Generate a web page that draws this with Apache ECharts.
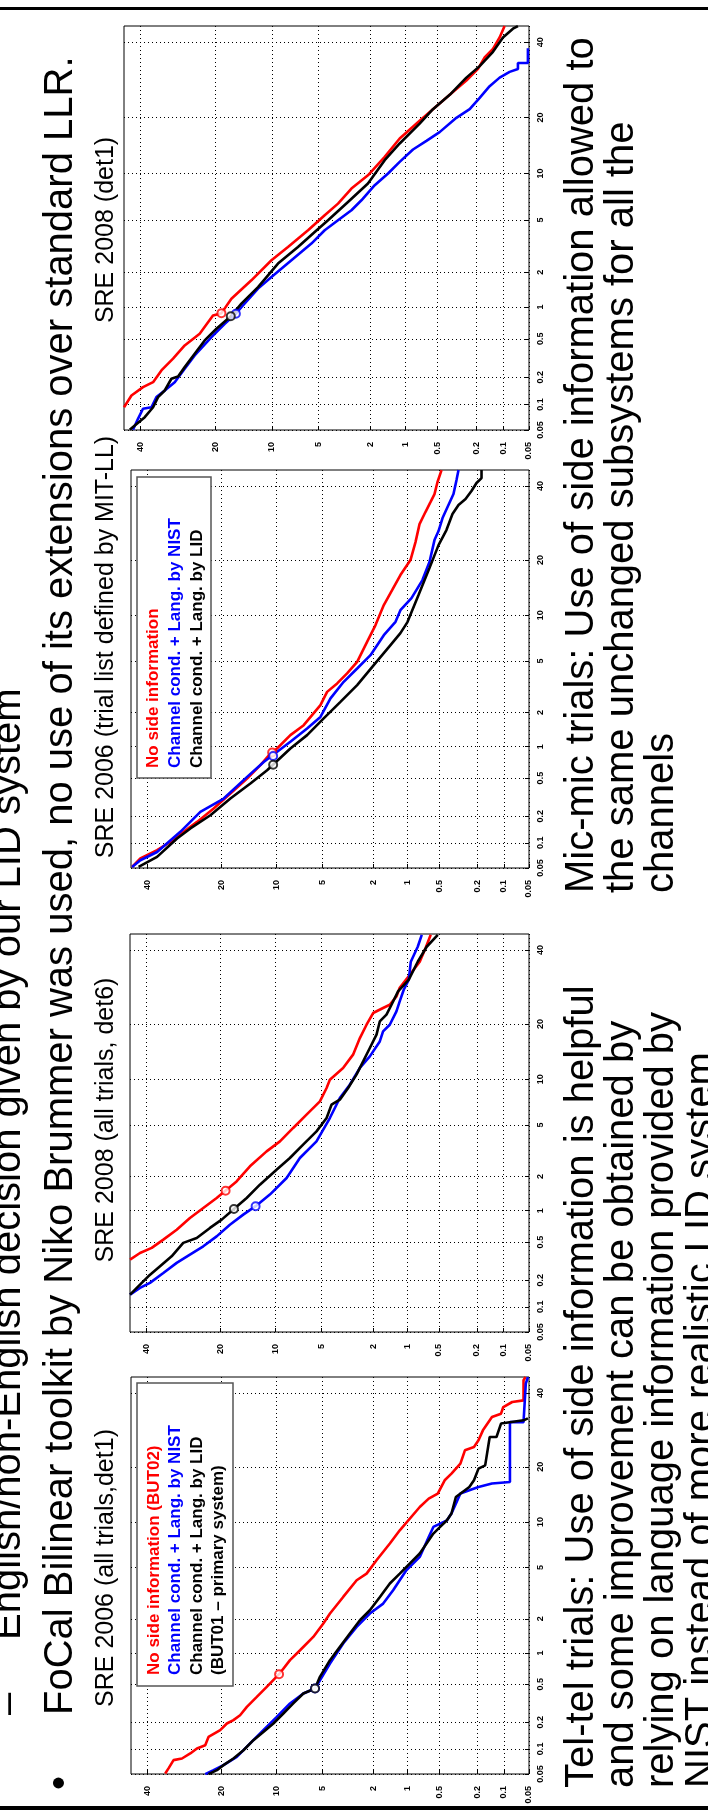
<!DOCTYPE html>
<html>
<head>
<meta charset="utf-8">
<title>DET plots - side information</title>
<script src="https://cdn.jsdelivr.net/npm/echarts@6/dist/echarts.min.js"></script>
<style>
html, body { margin: 0; padding: 0; background: #fff; }
#myecharts { width: 708px; height: 1816px; }
</style>
</head>
<body>
<div id="myecharts"></div>
<script>
// slide is rotated 90deg: miss prob runs along x (inverted), false alarm along y
// all DET points are [miss, false alarm] as normal deviates (probit of the probability)

var tickPercents = [40, 20, 10, 5, 2, 1, 0.5, 0.2, 0.1, 0.05];
var tickLabels = ['40', '20', '10', '5', '2', '1', '0.5', '0.2', '0.1', '0.05'];
var axisMinPercent = 0.05;
var axisMaxPercent = 45;

var plotTitles = ['SRE 2008 (det1)', 'SRE 2006 (trial list defined by MIT-LL)', 'SRE 2008 (all trials, det6)', 'SRE 2006 (all trials,det1)'];

// SRE 2008 det1 (mic-mic)
var sre08det1Red = [[-0.126,-3.112],[-0.184,-3.020],[-0.274,-2.955],[-0.353,-2.916],[-0.418,-2.824],[-0.509,-2.732],[-0.600,-2.628],[-0.717,-2.536],[-0.821,-2.393],[-0.887,-2.375],[-0.965,-2.262],[-1.121,-2.118],[-1.278,-1.961],[-1.407,-1.857],[-1.564,-1.726],[-1.694,-1.608],[-1.798,-1.517],[-1.903,-1.399],[-2.032,-1.295],[-2.163,-1.151],[-2.280,-1.007],[-2.436,-0.868],[-2.592,-0.732],[-2.696,-0.642],[-2.801,-0.553],[-2.892,-0.462],[-2.944,-0.372],[-3.009,-0.305],[-3.061,-0.215],[-3.100,-0.126]];
var sre08det1Blue = [[-0.196,-3.289],[-0.235,-3.203],[-0.274,-3.124],[-0.340,-3.112],[-0.379,-3.033],[-0.444,-2.981],[-0.522,-2.916],[-0.600,-2.811],[-0.678,-2.706],[-0.809,-2.563],[-0.913,-2.458],[-1.000,-2.380],[-1.043,-2.328],[-1.173,-2.183],[-1.278,-2.092],[-1.434,-1.961],[-1.590,-1.830],[-1.694,-1.726],[-1.798,-1.648],[-1.903,-1.569],[-1.981,-1.491],[-2.085,-1.373],[-2.189,-1.281],[-2.280,-1.190],[-2.384,-1.093],[-2.489,-1.025],[-2.592,-0.957],[-2.723,-0.845],[-2.827,-0.777],[-2.905,-0.688],[-2.983,-0.597],[-3.061,-0.530],[-3.139,-0.485],[-3.204,-0.462],[-3.204,-0.416],[-3.282,-0.416],[-3.282,-0.299]];
var sre08det1Black = [[-0.171,-3.289],[-0.210,-3.255],[-0.288,-3.190],[-0.353,-3.112],[-0.392,-3.033],[-0.444,-2.981],[-0.496,-2.889],[-0.548,-2.871],[-0.600,-2.798],[-0.678,-2.693],[-0.756,-2.589],[-0.848,-2.497],[-0.960,-2.400],[-1.043,-2.301],[-1.173,-2.171],[-1.329,-1.987],[-1.485,-1.857],[-1.616,-1.739],[-1.720,-1.648],[-1.876,-1.504],[-2.032,-1.360],[-2.163,-1.177],[-2.280,-1.046],[-2.436,-0.890],[-2.540,-0.777],[-2.671,-0.665],[-2.801,-0.530],[-2.905,-0.440],[-3.009,-0.328],[-3.087,-0.215],[-3.165,-0.147],[-3.204,-0.126]];
var sre08det1Dcf = [[-0.887,-2.375],[-1.000,-2.380],[-0.960,-2.400]]; // red, blue, black

// SRE 2006, trial list by MIT-LL (mic-mic)
var sre06mitRed = [[-0.134,-3.282],[-0.200,-3.215],[-0.333,-3.149],[-0.439,-3.083],[-0.544,-3.003],[-0.651,-2.924],[-0.783,-2.817],[-0.916,-2.698],[-1.049,-2.579],[-1.155,-2.473],[-1.234,-2.380],[-1.287,-2.340],[-1.393,-2.234],[-1.499,-2.155],[-1.632,-1.996],[-1.685,-1.890],[-1.765,-1.823],[-1.844,-1.743],[-1.924,-1.651],[-2.003,-1.492],[-2.070,-1.359],[-2.136,-1.200],[-2.202,-1.081],[-2.268,-0.961],[-2.348,-0.842],[-2.388,-0.699],[-2.420,-0.556],[-2.467,-0.460],[-2.507,-0.381],[-2.539,-0.317],[-2.563,-0.221],[-2.595,-0.126]];
var sre06mitBlue = [[-0.134,-3.282],[-0.200,-3.229],[-0.333,-3.163],[-0.518,-3.003],[-0.677,-2.844],[-0.863,-2.738],[-1.049,-2.566],[-1.181,-2.447],[-1.393,-2.287],[-1.526,-2.181],[-1.632,-2.089],[-1.712,-1.942],[-1.817,-1.810],[-1.924,-1.704],[-2.030,-1.598],[-2.136,-1.439],[-2.229,-1.333],[-2.268,-1.240],[-2.356,-1.144],[-2.443,-1.001],[-2.499,-0.858],[-2.539,-0.683],[-2.571,-0.611],[-2.603,-0.508],[-2.650,-0.404],[-2.690,-0.317],[-2.714,-0.206],[-2.730,-0.126]];
var sre06mitBlack = [[-0.186,-3.282],[-0.333,-3.202],[-0.492,-3.056],[-0.598,-2.976],[-0.757,-2.871],[-0.916,-2.738],[-1.075,-2.618],[-1.208,-2.513],[-1.393,-2.340],[-1.526,-2.234],[-1.658,-2.101],[-1.791,-1.969],[-1.924,-1.836],[-2.056,-1.677],[-2.189,-1.518],[-2.268,-1.423],[-2.324,-1.335],[-2.412,-1.120],[-2.499,-0.906],[-2.571,-0.723],[-2.634,-0.603],[-2.682,-0.476],[-2.730,-0.404],[-2.786,-0.357],[-2.833,-0.293],[-2.873,-0.229],[-2.913,-0.190],[-2.913,-0.126]];
var sre06mitDcf = [[-1.248,-2.372],[-1.256,-2.400],[-1.256,-2.470]];

// SRE 2008 all trials det6 (tel-tel)
var sre08det6Red = [[-0.126,-2.715],[-0.205,-2.662],[-0.298,-2.622],[-0.390,-2.556],[-0.496,-2.477],[-0.601,-2.384],[-0.707,-2.304],[-0.813,-2.225],[-0.971,-2.093],[-1.077,-1.973],[-1.209,-1.854],[-1.315,-1.775],[-1.420,-1.668],[-1.526,-1.562],[-1.632,-1.457],[-1.685,-1.350],[-1.711,-1.284],[-1.816,-1.191],[-1.895,-1.085],[-1.949,-0.953],[-2.002,-0.847],[-2.054,-0.754],[-2.133,-0.714],[-2.186,-0.688],[-2.239,-0.622],[-2.265,-0.553],[-2.345,-0.450],[-2.424,-0.346],[-2.471,-0.235],[-2.511,-0.132]];
var sre08det6Blue = [[-0.126,-2.993],[-0.205,-2.940],[-0.284,-2.900],[-0.390,-2.821],[-0.496,-2.741],[-0.601,-2.675],[-0.707,-2.609],[-0.813,-2.530],[-0.918,-2.437],[-1.024,-2.357],[-1.122,-2.290],[-1.235,-2.198],[-1.368,-2.066],[-1.473,-1.907],[-1.605,-1.775],[-1.711,-1.589],[-1.790,-1.430],[-1.869,-1.324],[-1.949,-1.191],[-2.028,-1.099],[-2.107,-0.980],[-2.133,-0.900],[-2.186,-0.847],[-2.239,-0.741],[-2.265,-0.662],[-2.297,-0.569],[-2.337,-0.489],[-2.353,-0.346],[-2.408,-0.227],[-2.440,-0.132]];
var sre08det6Black = [[-0.126,-2.993],[-0.205,-2.914],[-0.271,-2.848],[-0.364,-2.768],[-0.456,-2.689],[-0.548,-2.582],[-0.655,-2.543],[-0.760,-2.463],[-0.853,-2.397],[-0.950,-2.312],[-1.051,-2.225],[-1.156,-2.119],[-1.288,-2.000],[-1.394,-1.907],[-1.499,-1.801],[-1.605,-1.695],[-1.685,-1.589],[-1.724,-1.483],[-1.790,-1.443],[-1.856,-1.350],[-1.922,-1.244],[-1.975,-1.139],[-2.028,-1.032],[-2.081,-0.926],[-2.107,-0.821],[-2.160,-0.767],[-2.200,-0.688],[-2.252,-0.582],[-2.337,-0.489],[-2.408,-0.346],[-2.479,-0.227],[-2.567,-0.132]];
var sre08det6Dcf = [[-0.884,-2.168],[-1.122,-2.290],[-0.950,-2.312]];

// SRE 2006 all trials det1 (tel-tel)
var sre06det1Red = [[-0.398,-3.286],[-0.424,-3.246],[-0.464,-3.180],[-0.531,-3.167],[-0.597,-3.127],[-0.650,-3.087],[-0.716,-3.061],[-0.742,-2.995],[-0.835,-2.941],[-0.888,-2.888],[-0.940,-2.861],[-0.993,-2.822],[-1.047,-2.755],[-1.126,-2.676],[-1.205,-2.596],[-1.303,-2.495],[-1.390,-2.383],[-1.470,-2.304],[-1.575,-2.198],[-1.655,-2.091],[-1.708,-2.011],[-1.813,-1.879],[-1.920,-1.746],[-1.999,-1.693],[-2.078,-1.587],[-2.184,-1.453],[-2.263,-1.348],[-2.422,-1.162],[-2.493,-1.095],[-2.565,-1.055],[-2.620,-0.949],[-2.674,-0.896],[-2.745,-0.816],[-2.781,-0.710],[-2.853,-0.684],[-2.889,-0.630],[-2.924,-0.551],[-2.996,-0.445],[-3.068,-0.418],[-3.086,-0.365],[-3.157,-0.325],[-3.247,-0.312],[-3.247,-0.152],[-3.263,-0.126]];
var sre06det1Blue = [[-0.716,-3.292],[-0.782,-3.260],[-0.861,-3.220],[-0.967,-3.154],[-1.073,-3.047],[-1.178,-2.941],[-1.285,-2.835],[-1.390,-2.728],[-1.496,-2.649],[-1.589,-2.609],[-1.628,-2.543],[-1.708,-2.410],[-1.813,-2.250],[-1.920,-2.118],[-2.025,-2.011],[-2.131,-1.932],[-2.210,-1.826],[-2.315,-1.666],[-2.422,-1.560],[-2.493,-1.401],[-2.530,-1.321],[-2.638,-1.268],[-2.674,-1.214],[-2.709,-1.135],[-2.745,-1.055],[-2.816,-1.029],[-2.889,-1.002],[-2.996,-0.975],[-3.139,-0.963],[-3.139,-0.485],[-3.247,-0.485],[-3.265,-0.179],[-3.282,-0.126]];
var sre06det1Black = [[-0.742,-3.292],[-0.809,-3.260],[-0.861,-3.220],[-0.940,-3.167],[-1.020,-3.101],[-1.099,-3.021],[-1.178,-2.955],[-1.258,-2.888],[-1.337,-2.808],[-1.416,-2.728],[-1.496,-2.649],[-1.589,-2.609],[-1.628,-2.516],[-1.708,-2.383],[-1.787,-2.277],[-1.866,-2.171],[-1.946,-2.065],[-2.025,-1.985],[-2.105,-1.879],[-2.184,-1.772],[-2.263,-1.693],[-2.422,-1.533],[-2.476,-1.453],[-2.530,-1.374],[-2.584,-1.321],[-2.638,-1.268],[-2.674,-1.214],[-2.709,-1.082],[-2.816,-1.002],[-2.853,-0.949],[-2.889,-0.856],[-2.942,-0.830],[-2.978,-0.604],[-3.032,-0.604],[-3.068,-0.497],[-3.247,-0.471],[-3.282,-0.455]];
var sre06det1Dcf = [[-1.303,-2.495],[-1.589,-2.609],[-1.589,-2.609]];

var legendMit = ['No side information', 'Channel cond. + Lang. by NIST', 'Channel cond. + Lang. by LID'];
var legendDet1 = ['No side information (BUT02)', 'Channel cond. + Lang. by NIST', 'Channel cond. + Lang. by LID', '(BUT01 \u2013 primary system)'];

var bulletSub = 'English/non-English decision given by our LID system';
var bulletMain = 'FoCal Bilinear toolkit by Niko Brummer was used, no use of its extensions over standard LLR.';
var telTelNote = ['Tel-tel trials: Use of side information is helpful', 'and some improvement can be obtained by', 'relying on language information provided by', 'NIST instead of more realistic LID system'];
var micMicNote = ['Mic-mic trials: Use of side information allowed to', 'the same unchanged subsystems for all the', 'channels'];

// inverse normal cdf (Acklam)
function probit(p) {
  var a = [-3.969683028665376e+01, 2.209460984245205e+02, -2.759285104469687e+02, 1.383577518672690e+02, -3.066479806614716e+01, 2.506628277459239e+00];
  var b = [-5.447609879822406e+01, 1.615858368580409e+02, -1.556989798598866e+02, 6.680131188771972e+01, -1.328068155288572e+01];
  var c = [-7.784894002430293e-03, -3.223964580411365e-01, -2.400758277161838e+00, -2.549732539343734e+00, 4.374664141464968e+00, 2.938163982698783e+00];
  var d = [7.784695709041462e-03, 3.224671290700398e-01, 2.445134137142996e+00, 3.754408661907416e+00];
  var q, r;
  if (p < 0.02425) {
    q = Math.sqrt(-2 * Math.log(p));
    return (((((c[0]*q+c[1])*q+c[2])*q+c[3])*q+c[4])*q+c[5]) / ((((d[0]*q+d[1])*q+d[2])*q+d[3])*q+1);
  }
  if (p <= 1 - 0.02425) {
    q = p - 0.5; r = q * q;
    return (((((a[0]*r+a[1])*r+a[2])*r+a[3])*r+a[4])*r+a[5])*q / (((((b[0]*r+b[1])*r+b[2])*r+b[3])*r+b[4])*r+1);
  }
  q = Math.sqrt(-2 * Math.log(1 - p));
  return -(((((c[0]*q+c[1])*q+c[2])*q+c[3])*q+c[4])*q+c[5]) / ((((d[0]*q+d[1])*q+d[2])*q+d[3])*q+1);
}

var devMin = probit(axisMinPercent / 100);
var devMax = probit(axisMaxPercent / 100);
var tickDevs = tickPercents.map(function (p) { return probit(p / 100); });

function tickText(v) {
  for (var i = 0; i < tickDevs.length; i++) {
    if (Math.abs(tickDevs[i] - v) < 1e-6) return tickLabels[i];
  }
  return '';
}

var plots = [
  { red: sre08det1Red, blue: sre08det1Blue, black: sre08det1Black, dcf: sre08det1Dcf },
  { red: sre06mitRed, blue: sre06mitBlue, black: sre06mitBlack, dcf: sre06mitDcf },
  { red: sre08det6Red, blue: sre08det6Blue, black: sre08det6Black, dcf: sre08det6Dcf },
  { red: sre06det1Red, blue: sre06det1Blue, black: sre06det1Black, dcf: sre06det1Dcf }
];
var gridBoxes = [
  { left: 124, top: 26, width: 405, height: 404 },
  { left: 131, top: 470, width: 398, height: 398 },
  { left: 130, top: 934, width: 399, height: 398 },
  { left: 131, top: 1377, width: 398, height: 397 }
];
var titleCenters = [230, 647, 1120, 1568];
var colors = ['#ff0000', '#0000ff', '#000000'];
var font = 'Liberation Sans, Arial, Helvetica, sans-serif';

var grids = [], xAxes = [], yAxes = [], series = [];
var dotted = { color: '#000', width: 1, type: [1, 3] };

gridBoxes.forEach(function (g, i) {
  grids.push({ left: g.left, top: g.top, width: g.width, height: g.height, show: true, borderColor: '#000', borderWidth: 1, backgroundColor: '#fff' });
  xAxes.push({
    type: 'value', gridIndex: i, inverse: true, min: devMin, max: devMax, position: 'bottom',
    axisLine: { show: false },
    axisTick: { show: true, inside: true, length: 4, customValues: tickDevs, lineStyle: { color: '#000' } },
    axisLabel: { customValues: tickDevs, formatter: tickText, rotate: 90, fontSize: 9, fontWeight: 900, fontFamily: font, color: '#000', margin: 12 },
    splitLine: { show: true, lineStyle: dotted }
  });
  yAxes.push({
    type: 'value', gridIndex: i, min: devMin, max: devMax, position: 'right',
    axisLine: { show: false },
    axisTick: { show: true, inside: true, length: 4, customValues: tickDevs, lineStyle: { color: '#000' } },
    axisLabel: { customValues: tickDevs, formatter: tickText, rotate: 90, fontSize: 9, fontWeight: 900, fontFamily: font, color: '#000', margin: 7 },
    splitLine: { show: true, lineStyle: dotted }
  });
  var p = plots[i];
  [p.red, p.blue, p.black].forEach(function (d, k) {
    series.push({
      type: 'line', xAxisIndex: i, yAxisIndex: i, data: d, showSymbol: false, clip: true,
      lineStyle: { color: colors[k], width: 2.6 }, z: 3 + k, silent: true
    });
  });
  p.dcf.forEach(function (pt, k) {
    series.push({
      type: 'scatter', xAxisIndex: i, yAxisIndex: i, data: [pt], symbol: 'emptyCircle', symbolSize: 8,
      itemStyle: { color: colors[k], borderColor: colors[k], borderWidth: 2.8 }, z: 7 + k, silent: true
    });
  });
});

// rotated text (reads bottom to top)
function vtext(x, y, text, size, color, align, weight) {
  return {
    type: 'text', x: x, y: y, rotation: Math.PI / 2, silent: true, z: 60,
    style: {
      text: text, fill: color || '#000', fontSize: size, fontFamily: font, fontWeight: weight || 'normal',
      align: align || 'left', verticalAlign: 'middle', textAlign: align || 'left', textVerticalAlign: 'middle'
    }
  };
}

var graphics = [];
graphics.push({ type: 'rect', shape: { x: 0, y: 7, width: 708, height: 3 }, style: { fill: '#000' }, silent: true });
graphics.push({ type: 'rect', shape: { x: 0, y: 1806, width: 708, height: 4 }, style: { fill: '#000' }, silent: true });

graphics.push(vtext(9, 1715, '\u2013', 40));
graphics.push(vtext(9, 1640, bulletSub, 40));
graphics.push(vtext(61, 1790, '\u2022', 40));
graphics.push(vtext(61, 1715, bulletMain, 40));

plotTitles.forEach(function (t, i) {
  graphics.push(vtext(106, titleCenters[i], t, 25, '#000', 'center'));
});

telTelNote.forEach(function (t, i) { graphics.push(vtext(582 + 40 * i, 1788, t, 40)); });
micMicNote.forEach(function (t, i) { graphics.push(vtext(582 + 40 * i, 893, t, 40)); });

// legend boxes
graphics.push({ type: 'rect', shape: { x: 137, y: 477, width: 74, height: 301 }, style: { fill: '#fff', stroke: '#555', lineWidth: 1.5 }, z: 50, silent: true });
legendMit.forEach(function (t, i) {
  graphics.push(vtext(153 + 22 * i, 768, t, 17, colors[i], 'left', 'bold'));
});
graphics.push({ type: 'rect', shape: { x: 137, y: 1383, width: 96, height: 303 }, style: { fill: '#fff', stroke: '#555', lineWidth: 1.5 }, z: 50, silent: true });
legendDet1.forEach(function (t, i) {
  graphics.push(vtext(154 + 21.5 * i, 1675, t, 17, colors[Math.min(i, 2)], 'left', 'bold'));
});

var hh = document.getElementById('myecharts');
var echart = echarts.init(hh, null, { renderer: 'canvas' });
echart.setOption({
  animation: false,
  backgroundColor: '#fff',
  grid: grids,
  xAxis: xAxes,
  yAxis: yAxes,
  series: series,
  graphic: graphics
});

window.addEventListener('resize', function () {
  if (echart) {
    echart.resize();
  }
});
</script>
</body>
</html>
